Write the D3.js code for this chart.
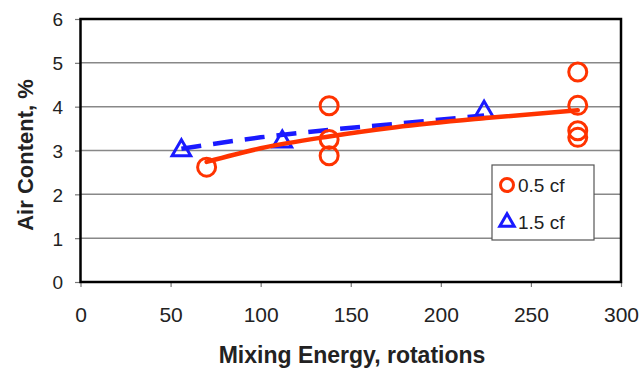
<!DOCTYPE html>
<html>
<head>
<meta charset="utf-8">
<script src="https://cdn.jsdelivr.net/npm/d3@7"></script>
<style>
	body { margin: 0; background: #fff; }
	svg { font-family: Arial, "Liberation Sans", sans-serif; }
</style>
</head>
<body>
<div id="chart"></div>
<script>

// measured points, 0.5 cf (circles) and 1.5 cf (triangles)
var energyHalf = [70, 138, 138, 138, 276, 276, 276, 276];
var airHalf    = [2.62, 4.02, 3.25, 2.88, 4.79, 4.03, 3.45, 3.3];

var energyOneHalf = [56, 112, 224];
var airOneHalf    = [3.0, 3.2, 3.88];

// trend lines
var trendHalfX = [70, 100, 138, 175, 225, 276];
var trendHalfY = [2.74, 3.05, 3.32, 3.53, 3.74, 3.92];

var trendOneHalfX = [56, 100, 138, 175, 224];
var trendOneHalfY = [3.04, 3.3, 3.47, 3.61, 3.8];

var xTicks = [0, 50, 100, 150, 200, 250, 300];
var yTicks = [0, 1, 2, 3, 4, 5, 6];

var legendNames = ["0.5 cf", "1.5 cf"];

var red = "#ff3300";
var blue = "#1a1aff";

var width = 643, height = 375;
var plot = { left: 80.5, right: 621, top: 19, bottom: 282 };

var svg = d3.select("#chart").append("svg")
	.attr("width", width).attr("height", height);

var xScale = d3.scaleLinear().domain([0, 300]).range([plot.left, plot.right]);
var yScale = d3.scaleLinear().domain([0, 6]).range([plot.bottom, plot.top]);

// grid lines
svg.append("g").selectAll("line")
	.data(yTicks.slice(1, -1))
	.enter().append("line")
	.attr("x1", plot.left).attr("x2", plot.right)
	.attr("y1", function(d){ return yScale(d); })
	.attr("y2", function(d){ return yScale(d); })
	.attr("stroke", "#888").attr("stroke-width", 1.5);

// axes
var xAxis = d3.axisBottom(xScale).tickValues(xTicks).tickFormat(d3.format("d"))
	.tickSize(5).tickPadding(20);
var yAxis = d3.axisLeft(yScale).tickValues(yTicks).tickFormat(d3.format("d"))
	.tickSize(5.5).tickPadding(12);

var gX = svg.append("g")
	.attr("transform", "translate(0," + plot.bottom + ")")
	.call(xAxis);
var gY = svg.append("g")
	.attr("transform", "translate(" + plot.left + ",0)")
	.call(yAxis);

[gX, gY].forEach(function(g){
	g.select(".domain").remove();
	g.selectAll(".tick line").attr("stroke", "#777").attr("stroke-width", 1.2);
	g.selectAll(".tick text").attr("fill", "#222");
});
gX.selectAll(".tick text").attr("font-size", 21);
gY.selectAll(".tick text").attr("font-size", 19).attr("dy", "0.36em");

// plot border
svg.append("rect")
	.attr("x", plot.left).attr("y", plot.top)
	.attr("width", plot.right - plot.left).attr("height", plot.bottom - plot.top)
	.attr("fill", "none").attr("stroke", "#000").attr("stroke-width", 2.5);

// axis titles
svg.append("text")
	.attr("x", 352).attr("y", 363)
	.attr("text-anchor", "middle")
	.attr("font-size", 23).attr("font-weight", "bold").attr("fill", "#222")
	.text("Mixing Energy, rotations");

svg.append("text")
	.attr("transform", "translate(33,155) rotate(-90)")
	.attr("text-anchor", "middle")
	.attr("font-size", 22).attr("font-weight", "bold").attr("fill", "#222")
	.text("Air Content, %");

// trend lines
var line = d3.line()
	.x(function(d){ return xScale(d[0]); })
	.y(function(d){ return yScale(d[1]); })
	.curve(d3.curveMonotoneX);

svg.append("path")
	.datum(d3.zip(trendOneHalfX, trendOneHalfY))
	.attr("d", line)
	.attr("fill", "none").attr("stroke", blue)
	.attr("stroke-width", 4.5).attr("stroke-dasharray", "20,12");

// markers
var triangle = d3.symbol().type(d3.symbolTriangle).size(150);

svg.append("g").selectAll("path")
	.data(d3.zip(energyOneHalf, airOneHalf))
	.enter().append("path")
	.attr("d", triangle)
	.attr("transform", function(d){ return "translate(" + xScale(d[0]) + "," + yScale(d[1]) + ")"; })
	.attr("fill", "none").attr("stroke", blue).attr("stroke-width", 3);

svg.append("g").selectAll("circle")
	.data(d3.zip(energyHalf, airHalf))
	.enter().append("circle")
	.attr("cx", function(d){ return xScale(d[0]); })
	.attr("cy", function(d){ return yScale(d[1]); })
	.attr("r", 9)
	.attr("fill", "none").attr("stroke", red).attr("stroke-width", 3);

svg.append("path")
	.datum(d3.zip(trendHalfX, trendHalfY))
	.attr("d", line)
	.attr("fill", "none").attr("stroke", red)
	.attr("stroke-width", 4.5).attr("stroke-linecap", "round");

// legend
var legend = svg.append("g").attr("transform", "translate(492,165)");
legend.append("rect")
	.attr("width", 102).attr("height", 75)
	.attr("fill", "#fff").attr("stroke", "#555").attr("stroke-width", 1.2);

legend.append("circle")
	.attr("cx", 15).attr("cy", 20).attr("r", 6.5)
	.attr("fill", "none").attr("stroke", red).attr("stroke-width", 3);
legend.append("path")
	.attr("d", d3.symbol().type(d3.symbolTriangle).size(90))
	.attr("transform", "translate(15,57)")
	.attr("fill", "none").attr("stroke", blue).attr("stroke-width", 3);

legend.selectAll("text")
	.data(legendNames)
	.enter().append("text")
	.attr("x", 26)
	.attr("y", function(d, i){ return 20 + i * 37; })
	.attr("dy", "0.36em")
	.attr("font-size", 19).attr("fill", "#222")
	.text(function(d){ return d; });

</script>
</body>
</html>
